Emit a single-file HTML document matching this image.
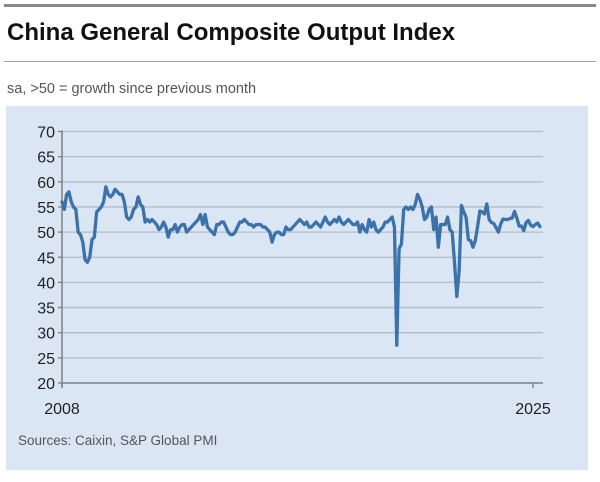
<!DOCTYPE html>
<html><head><meta charset="utf-8"><style>
body{margin:0;background:#fff;width:600px;height:482px;overflow:hidden;font-family:"Liberation Sans",sans-serif;}
#wrap{position:relative;width:600px;height:482px;}
</style></head><body>
<div id="wrap">
<div style="position:absolute;left:4px;top:4px;width:592px;height:3px;background:#8a8a8a"></div>
<div style="position:absolute;left:7px;top:19px;font-size:24px;font-weight:bold;color:#111;">China General Composite Output Index</div>
<div style="position:absolute;left:4px;top:61px;width:592px;height:1px;background:#a0a0a0"></div>
<div style="position:absolute;left:7px;top:81px;font-size:14.5px;color:#555">sa, &gt;50 = growth since previous month</div>
<svg id="chart" width="600" height="482" style="position:absolute;left:0;top:0">
<rect x="6" y="106" width="582" height="364" fill="#dbe6f4"/>
<g id="grid"></g><g id="axes"></g><g id="series"></g>
<text x="18" y="445" font-size="13.5" fill="#555" font-family="Liberation Sans, sans-serif">Sources: Caixin, S&amp;P Global PMI</text>
</svg>
</div>
<script>
const yTicks=[20,25,30,35,40,45,50,55,60,65,70];
const xTickLabels=["2008","2025"];
const xTickYears=[2008,2025];
const startYear=2008;
const values=[
56,54.5,57.5,58,56,55,54.5,50,49.5,48,44.5,44,
45,48.5,49,54,54.5,55,56,59,57.5,57,57.5,58.5,
58,57.5,57.5,56,53,52.5,53,54.5,55,57,55.5,55,
52,52.5,52,52.5,52,51.5,50.5,51,52,51,49,50.5,
50.5,51.5,50,51,51.5,51.5,50,50.5,51,51.5,52,52.5,
53.5,51.5,53.5,51,50.5,50,49.5,51.5,51.5,52,52,51,
50,49.5,49.5,50,51,52,52,52.5,52,51.5,51.5,51,
51.5,51.5,51.5,51,51,50.5,50,48,49.5,50,50,49.5,
49.5,51,50.5,50.5,51,51.5,52,52.5,52,51.5,52,51,
51,51.5,52,51.5,51,52,53,52,51.5,52,52.5,52,
53,52,51.5,52,52.5,52,51.5,51.5,52,50,51.5,50.5,
50,52.5,51,52,50.5,50,50.5,51,52,52,52.5,53,
51,27.5,46.7,47.6,54.5,55,54.5,55,54.5,55.5,57.5,56.5,
55,52.5,53,54.5,55,50.5,53,47,51.5,51.5,51.5,53,
50.5,50,44,37.2,42.2,55.3,54,53,48.5,48.3,47,48.3,
51.1,54.2,54,53.6,55.6,52.5,51.9,51.7,50.9,50,51.6,52.6,
52.5,52.5,52.7,52.8,54.1,52.8,51.2,51.2,50.3,51.9,52.3,51.4,
51.1,51.5,51.8,51.1];
const NS="http://www.w3.org/2000/svg";
const X0=62,X1=533,Y0=383,Y1=131.5;
function xScale(m){return X0+(X1-X0)*m/((2025-startYear)*12);}
function yScale(v){return Y0-(v-20)/(70-20)*(Y0-Y1);}
function mk(tag,attrs,parent){const e=document.createElementNS(NS,tag);for(const k in attrs)e.setAttribute(k,attrs[k]);parent.appendChild(e);return e;}
const grid=document.getElementById('grid'),axes=document.getElementById('axes'),series=document.getElementById('series');
yTicks.forEach(t=>{
  const y=yScale(t);
  if(t>20){const g=mk('line',{x1:X0,x2:543,y1:y,y2:y,stroke:'#b3bcc8','stroke-width':1.3},grid);
  
  }
  const tk=mk('line',{x1:X0-4,x2:X0,y1:y,y2:y,stroke:'#808080','stroke-width':1.3},axes);
  
  
  const lb=mk('text',{x:X0-7,y:y+6,'text-anchor':'end','font-size':16,fill:'#222','font-family':'Liberation Sans, sans-serif'},axes);
  lb.textContent=t;
  
  
});
const ya=mk('line',{x1:X0,x2:X0,y1:Y1-1,y2:Y0+4,stroke:'#808080','stroke-width':1.5},axes);


const xa=mk('line',{x1:X0,x2:543,y1:Y0,y2:Y0,stroke:'#808080','stroke-width':1.5},axes);


xTickYears.forEach((yr,i)=>{
  const x=xScale((yr-startYear)*12);
  const tk=mk('line',{x1:x,x2:x,y1:Y0,y2:Y0+5,stroke:'#808080','stroke-width':1.3},axes);
  
  
  const lb=mk('text',{x:x,y:Y0+31,'text-anchor':'middle','font-size':16,fill:'#222','font-family':'Liberation Sans, sans-serif'},axes);
  lb.textContent=xTickLabels[i];
  
  
});
const d=values.map((v,i)=>(i?'L':'M')+xScale(i).toFixed(2)+','+yScale(v).toFixed(2)).join(' ');
const p=mk('path',{d:d,fill:'none',stroke:'#3b72aa','stroke-width':3.3,'stroke-linejoin':'round','stroke-linecap':'round'},series);


</script>
</body></html>
